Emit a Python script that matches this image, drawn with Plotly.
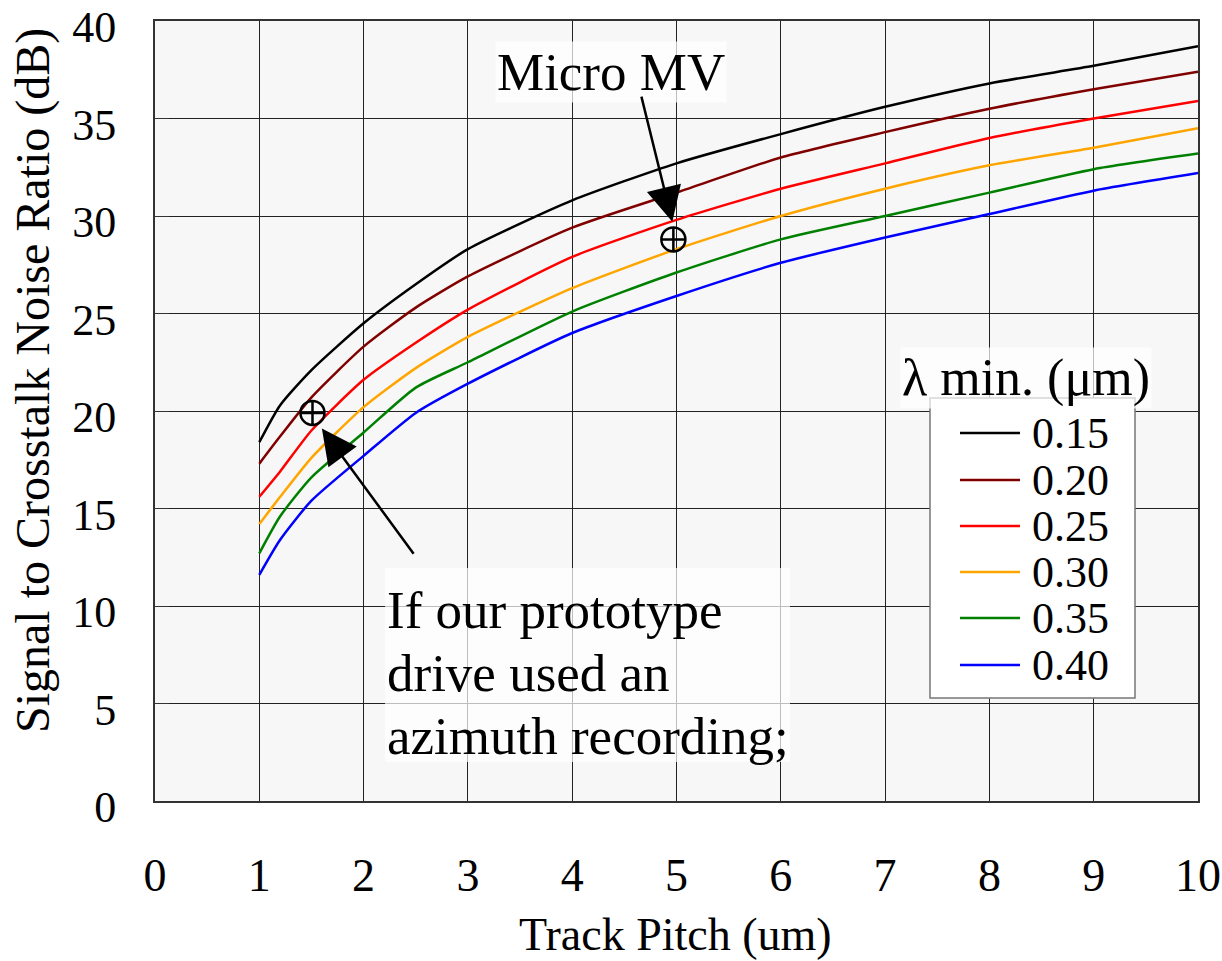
import plotly.graph_objects as go

# ---------------- data ----------------
track_pitch = [1, 1.2, 1.5, 2, 2.5, 3, 4, 5, 6, 7, 8, 9, 10]
lam_labels = ["0.15", "0.20", "0.25", "0.30", "0.35", "0.40"]
snr_015 = [18.4, 20.3, 22.1, 24.5, 26.5, 28.3, 30.8, 32.7, 34.2, 35.6, 36.8, 37.7, 38.7]
snr_020 = [17.3, 18.7, 20.7, 23.3, 25.3, 26.9, 29.4, 31.2, 33.0, 34.3, 35.5, 36.5, 37.4]
snr_025 = [15.6, 16.9, 19.0, 21.6, 23.5, 25.2, 27.9, 29.8, 31.4, 32.7, 34.0, 35.0, 35.9]
snr_030 = [14.2, 15.6, 17.6, 20.2, 22.2, 23.8, 26.3, 28.3, 30.0, 31.4, 32.6, 33.5, 34.5]
snr_035 = [12.7, 14.6, 16.6, 18.9, 21.2, 22.5, 25.1, 27.1, 28.8, 30.0, 31.2, 32.4, 33.2]
snr_040 = [11.6, 13.4, 15.4, 17.7, 19.9, 21.4, 24.0, 25.9, 27.6, 28.9, 30.1, 31.3, 32.2]
series = [snr_015, snr_020, snr_025, snr_030, snr_035, snr_040]
colors = ["#000000", "#800000", "#ff0000", "#ffa500", "#008000", "#0000ff"]

marker_x = [4.97, 1.51]
marker_y = [28.8, 19.9]

x_ticks = list(range(0, 11))
y_ticks = list(range(0, 41, 5))

FONT = "Liberation Serif, Times New Roman, serif"

# plot area in pixels
L, R, T, B = 155, 1198, 21, 801
W, H = 1222, 961


def px(xp):
    return (xp - L) / (R - L)


def py(yp):
    return (B - yp) / (B - T)


fig = go.Figure()
for name, vals, col in zip(lam_labels, series, colors):
    fig.add_trace(go.Scatter(x=track_pitch, y=vals, mode="lines", name=name,
                             line=dict(color=col, width=2.5, shape="spline", smoothing=0.6),
                             showlegend=False))

fig.add_trace(go.Scatter(x=marker_x, y=marker_y, mode="markers", showlegend=False,
                         marker=dict(symbol="circle-cross-open", size=24, color="black",
                                     line=dict(width=2.5, color="black"))))

shapes = []
annotations = []

# ---- custom legend ----
shapes.append(dict(type="rect", xref="paper", yref="paper",
                   x0=px(930), x1=px(1135), y0=py(698), y1=py(398),
                   fillcolor="white", line=dict(color="#777777", width=1.5), layer="above"))
row_y = [433, 480, 526, 572, 618, 665]
for name, col, ry in zip(lam_labels, colors, row_y):
    shapes.append(dict(type="line", xref="paper", yref="paper",
                       x0=px(960), x1=px(1020), y0=py(ry), y1=py(ry),
                       line=dict(color=col, width=2.5), layer="above"))
    annotations.append(dict(xref="paper", yref="paper", x=px(1030), y=py(ry),
                            text=name, showarrow=False, xanchor="left", yanchor="middle",
                            font=dict(family=FONT, size=44, color="black")))
annotations.append(dict(xref="paper", yref="paper", x=px(1026), y=py(378),
                        text="λ min. (μm)", showarrow=False, xanchor="center", yanchor="middle",
                        bgcolor="rgba(255,255,255,0.7)",
                        font=dict(family=FONT, size=52, color="black")))

# ---- Micro MV ----
annotations.append(dict(xref="paper", yref="paper", x=px(611), y=py(72),
                        text="Micro MV", showarrow=False, xanchor="center", yanchor="middle",
                        bgcolor="rgba(255,255,255,0.7)",
                        font=dict(family=FONT, size=53, color="black")))
annotations.append(dict(x=4.96, y=29.7, ax=4.66, ay=36.2, xref="x", yref="y",
                        axref="x", ayref="y", text="", showarrow=True,
                        arrowhead=2, arrowsize=2.8, arrowwidth=2.5, arrowcolor="black"))

# ---- prototype note ----
shapes.append(dict(type="rect", xref="paper", yref="paper",
                   x0=px(385), x1=px(790), y0=py(762), y1=py(568),
                   fillcolor="rgba(255,255,255,0.7)", line=dict(width=0), layer="above"))
note_lines = ["If our prototype", "drive used an", "azimuth recording;"]
for i, t in enumerate(note_lines):
    annotations.append(dict(xref="paper", yref="paper", x=px(385), y=py(610 + 63 * i),
                            text=t, showarrow=False, xanchor="left", yanchor="middle",
                            font=dict(family=FONT, size=53, color="black")))
annotations.append(dict(x=1.6, y=19.1, ax=2.49, ay=12.6, xref="x", yref="y",
                        axref="x", ayref="y", text="", showarrow=True,
                        arrowhead=2, arrowsize=2.8, arrowwidth=2.5, arrowcolor="black"))

# ---- axis titles ----
annotations.append(dict(xref="paper", yref="paper", x=px(675), y=py(934),
                        text="Track Pitch (um)", showarrow=False, xanchor="center", yanchor="middle",
                        font=dict(family=FONT, size=46, color="black")))
annotations.append(dict(xref="paper", yref="paper", x=px(33), y=py(381),
                        text="Signal to Crosstalk Noise Ratio (dB)", showarrow=False,
                        textangle=-90, xanchor="center", yanchor="middle",
                        font=dict(family=FONT, size=48, color="black")))

fig.update_layout(
    width=W, height=H,
    margin=dict(l=L, r=W - R, t=T, b=H - B, pad=0, autoexpand=False),
    paper_bgcolor="white", plot_bgcolor="#f7f7f7",
    shapes=shapes, annotations=annotations,
    showlegend=False,
)
fig.update_xaxes(range=[0, 10], tickvals=x_ticks, ticktext=[str(v) for v in x_ticks],
                 showgrid=True, gridcolor="#222222", gridwidth=1.3, automargin=False,
                 showline=True, linecolor="#333333", linewidth=2, mirror=True,
                 ticks="", ticklabelstandoff=33, zeroline=False, ticklabeloverflow="allow",
                 tickfont=dict(family=FONT, size=46, color="black"))
fig.update_yaxes(range=[0, 40], tickvals=y_ticks, ticktext=[str(v) for v in y_ticks],
                 showgrid=True, gridcolor="#222222", gridwidth=1.3, automargin=False,
                 showline=True, linecolor="#333333", linewidth=2, mirror=True,
                 ticks="inside", ticklen=14, tickcolor="#333333", ticklabelstandoff=28,
                 ticklabelshift=6,
                 zeroline=False, ticklabeloverflow="allow",
                 tickfont=dict(family=FONT, size=44, color="black"))

fig.write_html("out.html")
